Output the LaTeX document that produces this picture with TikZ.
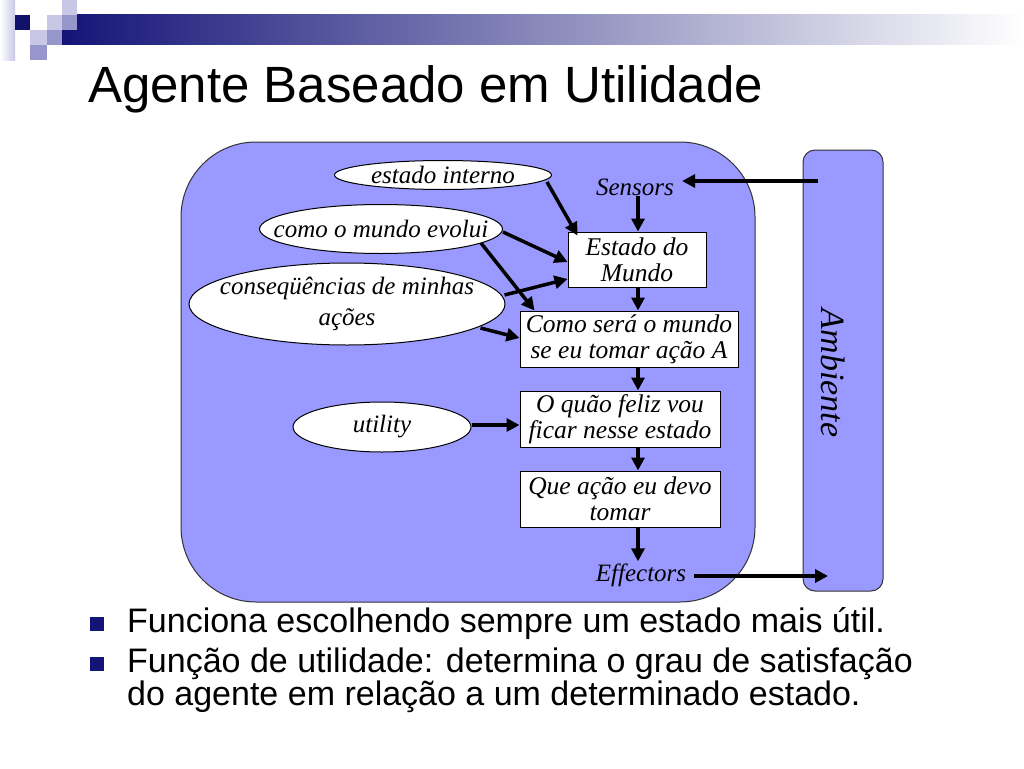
\documentclass[tikz,border=0pt]{standalone}
\usepackage{fontspec}
\setmainfont{Liberation Serif}
\newfontfamily\arial{Liberation Sans}
\usetikzlibrary{arrows.meta,shapes.geometric,positioning,calc}
\definecolor{agentblue}{RGB}{153,153,255}
\definecolor{barnavy}{RGB}{20,20,120}
\definecolor{sqlight}{RGB}{200,200,230}
\definecolor{sqmid}{RGB}{150,150,205}
\begin{document}
\begin{tikzpicture}[x=1pt, y=-1pt,
        arrow/.style = {line width=3.5pt, -{Triangle[length=13pt,width=13pt]}},
        statebox/.style = {shape=rectangle, draw, line width=1pt, fill=white, inner sep=0pt, align=center,
                           font=\itshape\fontsize{25.5}{26}\selectfont},
        knowledge/.style = {shape=ellipse, draw, line width=1pt, fill=white, inner xsep=-60pt, inner ysep=-20pt,
                            align=center, font=\itshape\fontsize{25}{30.5}\selectfont},
        plain/.style = {inner sep=0pt, font=\itshape\fontsize{25}{26}\selectfont},
        bullet/.style = {inner sep=0pt, anchor=base west, font=\arial\fontsize{34}{34}\selectfont}]
    \useasboundingbox (0,0) rectangle (1024,768);
    \fill[white] (0,0) rectangle (1024,768);
    % corner decoration
    \shade[left color=white, right color=sqlight] (0,0) rectangle (15,60);
    \shade[left color=barnavy, right color=white] (62,15) rectangle (1024,45);
    \fill[barnavy!90!black] (15,15) rectangle (30,30);
    \fill[sqlight] (62,0) rectangle (77,15);
    \fill[sqlight] (47,15) rectangle (62,30);
    \fill[sqmid] (62,15) rectangle (77,30);
    \fill[sqlight] (30,30) rectangle (47,45);
    \fill[sqmid] (47,30) rectangle (62,45);
    \fill[sqmid] (30,45) rectangle (47,60);
    % title
    \node[inner sep=0pt, anchor=base west, font=\arial\fontsize{51}{51}\selectfont] (title) at (88,102) {Agente Baseado em Utilidade};
    % agent and environment
    \draw[fill=agentblue, draw=black!80, line width=1pt, rounded corners=75pt] (181,142) rectangle (755,602);
    \draw[fill=agentblue, draw=black!80, line width=1pt, rounded corners=12pt] (803,150) rectangle (883,591);
    \node[plain, rotate=-90, font=\itshape\fontsize{34}{34}\selectfont] (ambiente) at (833,373) {Ambiente};
    \coordinate (envout) at (818,181);
    \coordinate (envin) at (828,576);
    % chain of states
    \node[plain] (sensors) at (635,187) {Sensors};
    \node[statebox, minimum width=138pt, minimum height=55pt] (estado) at (637,259.5) {Estado do\\Mundo};
    \node[statebox, minimum width=218pt, minimum height=56pt] (comosera) at (629,339) {Como será o mundo\\se eu tomar ação A};
    \node[statebox, minimum width=200pt, minimum height=56pt] (feliz) at (620,419) {O quão feliz vou\\ficar nesse estado};
    \node[statebox, minimum width=200pt, minimum height=56pt] (acao) at (620,499) {Que ação eu devo\\tomar};
    \node[plain] (effectors) at (641,575) {Effectors};
    % knowledge
    \node[knowledge, minimum width=217pt, minimum height=29pt] (interno) at (443,175) {estado interno};
    \node[knowledge, minimum width=243pt, minimum height=49pt] (evolui) at (381,229) {como o mundo evolui};
    \node[knowledge, minimum width=316pt, minimum height=82pt] (conseq) at (347,304) {conseqüências de minhas\\ações};
    \node[knowledge, minimum width=178pt, minimum height=50pt] (utility) at (382,427) {utility};
    % connectors
    \draw[arrow] (envout) -- ($(sensors.east)+(8,-6)$);
    \draw[arrow] (sensors.south -| 638,0) -- (estado.north -| 638,0);
    \draw[arrow] (estado.south -| 638,0) -- (comosera.north -| 638,0);
    \draw[arrow] (comosera.south -| 638,0) -- (feliz.north -| 638,0);
    \draw[arrow] (feliz.south -| 638,0) -- (acao.north -| 638,0);
    \draw[arrow] (acao.south -| 638,0) -- ($(effectors.north -| 638,0)+(0,-2)$);
    \draw[arrow] ($(effectors.east)+(8,1)$) -- (envin);
    \draw[arrow] ($(interno.east)+(-5,7)$) -- ($(estado.north west)+(10,4)$);
    \draw[arrow] ($(evolui.east)+(0,3)$) -- (estado.west |- 0,262);
    \draw[arrow] ($(evolui.east)+(-22,14)$) -- ($(comosera.north west)+(15,0)$);
    \draw[arrow] ($(conseq.east)+(-1,-9)$) -- (estado.west |- 0,279);
    \draw[arrow] ($(conseq.east)+(-25,24)$) -- (comosera.west |- 0,338);
    \draw[arrow] ($(utility.east)+(0,-2)$) -- (feliz.west |- 0,425);
    % bullets
    \fill[barnavy] (90,617) rectangle (104,631);
    \fill[barnavy] (90,657) rectangle (104,671);
    \node[bullet] (b1) at (127,632) {Funciona escolhendo sempre um estado mais útil.};
    \node[bullet] (b2) at (127,672) {Função de utilidade: determina o grau de satisfação};
    \node[bullet] (b3) at (127,705) {do agente em relação a um determinado estado.};
\end{tikzpicture}
\end{document}
